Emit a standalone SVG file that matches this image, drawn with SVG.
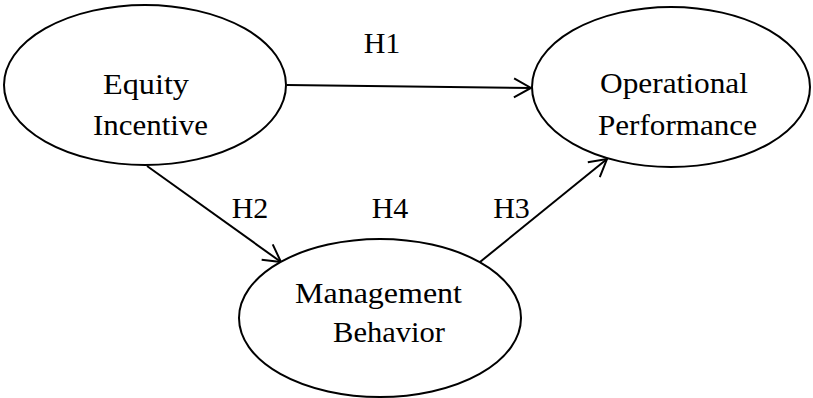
<svg xmlns="http://www.w3.org/2000/svg" width="813" height="398" viewBox="0 0 813 398">
<style>
.n{fill:#fff;stroke:#000;stroke-width:2}
.t{font-family:"Liberation Serif","Times New Roman",serif;font-size:30px;fill:#000;text-anchor:middle}
.c{stroke:#000;stroke-width:2;fill:none;marker-end:url(#a)}
</style>
<defs>
<marker id="a" viewBox="0 0 20 22" refX="18" refY="11" markerWidth="20" markerHeight="22" markerUnits="userSpaceOnUse" orient="auto">
<path d="M1,1.5 L18,11 L1,20.5" fill="none" stroke="#000" stroke-width="2"/>
</marker>
</defs>
<rect width="813" height="398" fill="#fff"/>
<g id="connectors">
<line class="c" x1="287" y1="85" x2="531" y2="88"/>
<line class="c" x1="147" y1="166" x2="281" y2="262"/>
<line class="c" x1="480" y1="262" x2="607" y2="159"/>
</g>
<g id="equity"><ellipse class="n" cx="145" cy="85" rx="141" ry="80"/>
<text class="t" x="146" y="94" textLength="86" lengthAdjust="spacingAndGlyphs">Equity</text><text class="t" x="150.5" y="135" textLength="115" lengthAdjust="spacingAndGlyphs">Incentive</text></g>
<g id="operational"><ellipse class="n" cx="671" cy="87" rx="139" ry="80"/>
<text class="t" x="674" y="93" textLength="148" lengthAdjust="spacingAndGlyphs">Operational</text><text class="t" x="677.5" y="135" textLength="159" lengthAdjust="spacingAndGlyphs">Performance</text></g>
<g id="management"><ellipse class="n" cx="380" cy="318" rx="141" ry="79"/>
<text class="t" x="378.5" y="303" textLength="167" lengthAdjust="spacingAndGlyphs">Management</text><text class="t" x="389" y="342" textLength="112" lengthAdjust="spacingAndGlyphs">Behavior</text></g>
<g id="labels">
<text class="t" x="382" y="52.5">H1</text>
<text class="t" x="250" y="218">H2</text>
<text class="t" x="390" y="218">H4</text>
<text class="t" x="511.5" y="218">H3</text>
</g>
</svg>
